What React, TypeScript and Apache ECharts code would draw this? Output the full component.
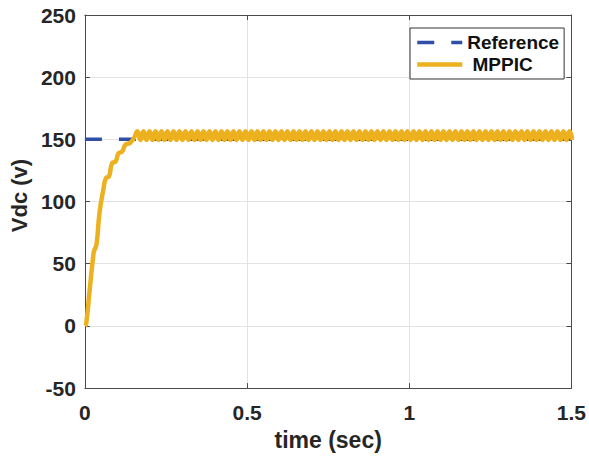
import React, { useEffect, useRef } from "react";
import * as echarts from "echarts";

// Start-up of the DC-link voltage (time in s, Vdc in V)
const rampTime = [0, 0.004, 0.015, 0.027, 0.031, 0.036, 0.045, 0.057, 0.065, 0.074, 0.084, 0.094, 0.104, 0.114, 0.126, 0.138, 0.151];
const rampVdc = [0, 2, 30, 59, 62, 66, 91, 110, 119, 120, 131, 132, 139, 140, 146, 147, 151];

// Steady-state ripple, sampled every half ripple period from steadyStart
const steadyStart = 0.162;
const steadyStep = 0.00925;
const steadyVdc = [
  156.5, 149.5, 156.5, 149.5, 156.5, 149.5, 156.5, 149.5, 156.5, 149.5, 156.5, 149.5, 156.5, 149.5, 156.5, 149.5, 156.5, 149.5, 156.5, 149.5,
  156.5, 149.5, 156.5, 149.5, 156.5, 149.5, 156.5, 149.5, 156.5, 149.5, 156.5, 149.5, 156.5, 149.5, 156.5, 149.5, 156.5, 149.5, 156.5, 149.5,
  156.5, 149.5, 156.5, 149.5, 156.5, 149.5, 156.5, 149.5, 156.5, 149.5, 156.5, 149.5, 156.5, 149.5, 156.5, 149.5, 156.5, 149.5, 156.5, 149.5,
  156.5, 149.5, 156.5, 149.5, 156.5, 149.5, 156.5, 149.5, 156.5, 149.5, 156.5, 149.5, 156.5, 149.5, 156.5, 149.5, 156.5, 149.5, 156.5, 149.5,
  156.5, 149.5, 156.5, 149.5, 156.5, 149.5, 156.5, 149.5, 156.5, 149.5, 156.5, 149.5, 156.5, 149.5, 156.5, 149.5, 156.5, 149.5, 156.5, 149.5,
  156.5, 149.5, 156.5, 149.5, 156.5, 149.5, 156.5, 149.5, 156.5, 149.5, 156.5, 149.5, 156.5, 149.5, 156.5, 149.5, 156.5, 149.5, 156.5, 149.5,
  156.5, 149.5, 156.5, 149.5, 156.5, 149.5, 156.5, 149.5, 156.5, 149.5, 156.5, 149.5, 156.5, 149.5, 156.5, 149.5, 156.5, 149.5, 156.5, 149.5,
  156.5, 149.5, 156.5, 149.5, 156.5, 149.5,
];

const referenceTime = [0, 1.5];
const referenceVdc = [150, 150];

const xMin = 0;
const xMax = 1.5;
const xInterval = 0.5;
const yMin = -50;
const yMax = 250;
const yInterval = 50;

const seriesNames = ["Reference", "MPPIC"];
const xName = "time (sec)";
const yName = "Vdc (v)";

const FONT = "'Liberation Sans', Arial, Helvetica, sans-serif";
const AXIS_COLOR = "#4a4a4a";
const TEXT_COLOR = "#262626";

export default function App() {
  const ref = useRef<HTMLDivElement>(null);

  useEffect(() => {
    if (!ref.current) return;
    const chart = echarts.init(ref.current, null, { renderer: "svg" });

    const mppicData: [number, number][] = [];
    rampTime.forEach((t, i) => mppicData.push([t, rampVdc[i]]));
    steadyVdc.forEach((v, i) => mppicData.push([steadyStart + i * steadyStep, v]));
    const refData = referenceTime.map((t, i) => [t, referenceVdc[i]]);

    const baseX = {
      type: "value" as const,
      min: xMin,
      max: xMax,
      interval: xInterval,
    };
    const baseY = {
      type: "value" as const,
      min: yMin,
      max: yMax,
      interval: yInterval,
    };

    chart.setOption({
      animation: false,
      backgroundColor: "#ffffff",
      grid: { left: 82, top: 15, right: 16, bottom: 67, containLabel: false },
      legend: {
        orient: "vertical",
        left: 410,
        top: 28,
        data: seriesNames,
        backgroundColor: "#ffffff",
        borderColor: "#333333",
        borderWidth: 1,
        borderRadius: 0,
        padding: [5, 5, 5, 5],
        itemGap: 3,
        itemWidth: 45,
        itemHeight: 19,
        itemStyle: { opacity: 0 },
        lineStyle: { width: "inherit" },
        textStyle: {
          fontFamily: FONT,
          fontWeight: "bold",
          fontSize: 19,
          color: "#111111",
        },
        formatter: (n: string) => (n === "MPPIC" ? "\u00a0MPPIC" : n),
      },
      xAxis: [
        {
          ...baseX,
          position: "bottom",
          name: xName,
          nameLocation: "middle",
          nameGap: 36,
          nameTextStyle: { fontFamily: FONT, fontWeight: "bold", fontSize: 23, color: TEXT_COLOR },
          axisLine: { show: true, onZero: false, lineStyle: { color: AXIS_COLOR, width: 1 } },
          axisTick: { show: true, inside: true, length: 5, lineStyle: { color: AXIS_COLOR } },
          axisLabel: {
            margin: 14,
            fontFamily: FONT,
            fontWeight: "bold",
            fontSize: 21,
            color: TEXT_COLOR,
            showMinLabel: true,
            showMaxLabel: true,
          },
          splitLine: { show: true, lineStyle: { color: "#e3e3e3", width: 1 } },
        },
        {
          ...baseX,
          position: "top",
          axisLine: { show: true, onZero: false, lineStyle: { color: AXIS_COLOR, width: 1 } },
          axisTick: { show: true, inside: true, length: 5, lineStyle: { color: AXIS_COLOR } },
          axisLabel: { show: false },
          splitLine: { show: false },
        },
      ],
      yAxis: [
        {
          ...baseY,
          position: "left",
          name: yName,
          nameLocation: "middle",
          nameGap: 48,
          nameRotate: 90,
          nameTextStyle: {
            fontFamily: FONT,
            fontWeight: "bold",
            fontSize: 22,
            color: TEXT_COLOR,
            padding: [0, 0, 0, 12],
          },
          axisLine: { show: true, onZero: false, lineStyle: { color: AXIS_COLOR, width: 1 } },
          axisTick: { show: true, inside: true, length: 5, lineStyle: { color: AXIS_COLOR } },
          axisLabel: {
            margin: 9,
            fontFamily: FONT,
            fontWeight: "bold",
            fontSize: 21,
            color: TEXT_COLOR,
            showMinLabel: true,
            showMaxLabel: true,
          },
          splitLine: { show: true, lineStyle: { color: "#e3e3e3", width: 1 } },
        },
        {
          ...baseY,
          position: "right",
          axisLine: { show: true, onZero: false, lineStyle: { color: AXIS_COLOR, width: 1 } },
          axisTick: { show: true, inside: true, length: 5, lineStyle: { color: AXIS_COLOR } },
          axisLabel: { show: false },
          splitLine: { show: false },
        },
      ],
      series: [
        {
          name: seriesNames[0],
          type: "line",
          data: refData,
          showSymbol: false,
          symbol: "none",
          z: 2,
          lineStyle: { color: "#2f4ea6", width: 3.5, type: [17, 17] },
          itemStyle: { color: "#2f4ea6" },
        },
        {
          name: seriesNames[1],
          type: "line",
          data: mppicData,
          showSymbol: false,
          symbol: "none",
          smooth: 0.5,
          z: 3,
          lineStyle: { color: "#edb120", width: 4.5 },
          itemStyle: { color: "#edb120" },
        },
      ],
    });

    return () => chart.dispose();
  }, []);

  return (
    <div
      ref={ref}
      style={{ position: "fixed", left: 0, top: 0, width: 589, height: 456, background: "#fff" }}
    />
  );
}
